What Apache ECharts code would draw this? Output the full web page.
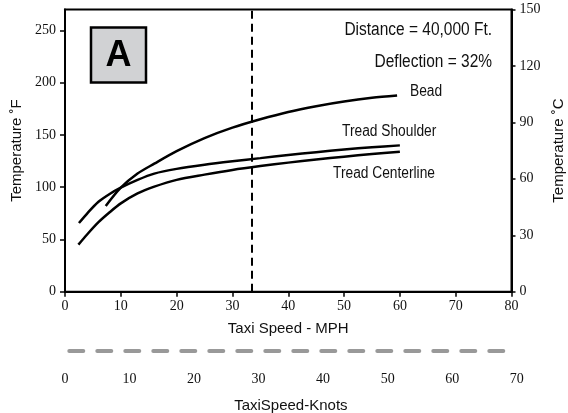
<!DOCTYPE html>
<html><head><meta charset="utf-8">
<script src="https://cdn.jsdelivr.net/npm/echarts@6/dist/echarts.min.js"></script>
<style>html,body{margin:0;padding:0;background:#fff}#c{width:568px;height:413px}</style>
</head><body><div id="c"></div>
<script>
// Data (x = taxi speed MPH, y = temperature °F)
const beadData = [[7.3,82],[10,99.5],[13,113],[16,122.5],[20,134.5],[25,147],[30,157],[35,165],[40,172],[45,177.5],[50,182],[55,185.5],[59.5,187.7]];
const shoulderData = [[2.5,65.7],[4,75],[6,86],[8,93.5],[10,99.5],[13,107],[16,113],[20,117.5],[25,121.5],[30,124.8],[35,127.8],[40,130.8],[45,133.5],[50,136],[55,138.2],[60,140]];
const centerlineData = [[2.4,45],[4,55],[6,66.5],[8,76],[10,84.5],[13,94],[16,100.5],[20,107],[25,112],[30,116.5],[35,120.2],[40,123.5],[45,126.5],[50,129.2],[55,131.7],[60,134]];
const refSpeedMph = 33.5;
const leftTicksF = [0,50,100,150,200,250];
const rightTicksC = [0,30,60,90,120,150];
const mphTicks = [0,10,20,30,40,50,60,70,80];
const knotTicks = [0,10,20,30,40,50,60,70];

const serif = '"Liberation Serif", "DejaVu Serif", serif';
const sans = '"Liberation Sans", Arial, sans-serif';
const tickLbl = {fontFamily: serif, fontSize: 14, color: '#111'};

const chart = echarts.init(document.getElementById('c'), null, {renderer: 'canvas'});
const lineStyle = {color: '#000', width: 2.5};
function mk(name, data) {
  return {name, type: 'line', data, smooth: 0.3, showSymbol: false, symbol: 'none',
    lineStyle, xAxisIndex: 0, yAxisIndex: 0, z: 3};
}
const series = [mk('Bead', beadData), mk('Tread Shoulder', shoulderData), mk('Tread Centerline', centerlineData)];
series[0].markLine = {silent: true, symbol: ['none','none'], label: {show: false},
  lineStyle: {color: '#000', width: 2, type: [8,5]}, data: [{xAxis: refSpeedMph}]};
series.push({type: 'line', data: [], xAxisIndex: 1, yAxisIndex: 2});

function txt(t, x, y, size, align) {
  return {type: 'text', x, y, scaleX: 0.86, style: {text: t, fontFamily: sans, fontSize: size, fill: '#111', align, verticalAlign: 'middle'}};
}

chart.setOption({
  animation: false,
  grid: [
    {left: 65, right: 56.5, top: 9.5, bottom: 121.3, show: true, borderColor: '#000', borderWidth: 2, backgroundColor: 'transparent', outerBoundsMode: 'none', containLabel: false},
    {left: 65, right: 51.3, top: 349.7, height: 1, outerBoundsMode: 'none', containLabel: false}
  ],
  xAxis: [
    {type: 'value', gridIndex: 0, min: 0, max: 80, interval: 10,
      axisLine: {show: true, lineStyle: {color: '#000', width: 2}},
      axisTick: {show: true, length: 5, lineStyle: {color: '#000', width: 1.5}, customValues: mphTicks},
      axisLabel: Object.assign({margin: 8, customValues: mphTicks}, tickLbl),
      splitLine: {show: false},
      name: 'Taxi Speed - MPH', nameLocation: 'middle', nameGap: 30,
      nameTextStyle: {fontFamily: sans, fontSize: 15, color: '#111'}},
    {type: 'value', gridIndex: 1, min: 0, max: 70, interval: 10, position: 'bottom',
      axisLine: {show: true, lineStyle: {color: '#999', width: 4, type: [14,14], dashOffset: 23.7}},
      axisTick: {show: false},
      axisLabel: Object.assign({margin: 22, customValues: knotTicks}, tickLbl),
      splitLine: {show: false},
      name: 'TaxiSpeed-Knots', nameLocation: 'middle', nameGap: 48,
      nameTextStyle: {fontFamily: sans, fontSize: 15, color: '#111'}}
  ],
  yAxis: [
    {type: 'value', gridIndex: 0, min: 0, max: 270, interval: 50, position: 'left',
      axisLine: {show: true, lineStyle: {color: '#000', width: 2}},
      axisTick: {show: true, length: 5, lineStyle: {color: '#000', width: 1.5}, customValues: leftTicksF},
      axisLabel: Object.assign({margin: 9, customValues: leftTicksF}, tickLbl),
      splitLine: {show: false},
      name: 'Temperature ˚F', nameLocation: 'middle', nameGap: 41, nameRotate: 90,
      nameTextStyle: {fontFamily: sans, fontSize: 15, color: '#111'}},
    {type: 'value', gridIndex: 0, min: 0, max: 150, interval: 30, position: 'right',
      axisLine: {show: true, lineStyle: {color: '#000', width: 2}},
      axisTick: {show: true, length: 4, lineStyle: {color: '#000', width: 1.5}, customValues: rightTicksC},
      axisLabel: Object.assign({margin: 8, customValues: rightTicksC}, tickLbl),
      splitLine: {show: false},
      name: 'Temperature ˚C', nameLocation: 'middle', nameGap: 40, nameRotate: 90,
      nameTextStyle: {fontFamily: sans, fontSize: 15, color: '#111'}},
    {type: 'value', gridIndex: 1, show: false, min: 0, max: 1}
  ],
  series,
  graphic: [
    {type: 'rect', shape: {x: 91, y: 27.5, width: 55, height: 55}, style: {fill: '#d1d2d4', stroke: '#000', lineWidth: 2.5}, z: 10},
    {type: 'text', x: 118.5, y: 56, style: {text: 'A', fontFamily: sans, fontWeight: 'bold', fontSize: 36, fill: '#000', align: 'center', verticalAlign: 'middle'}, z: 11},
    txt('Distance = 40,000 Ft.', 492, 30, 18, 'right'),
    txt('Deflection = 32%', 492, 62, 18, 'right'),
    txt('Bead', 410, 92, 16, 'left'),
    txt('Tread Shoulder', 342, 132, 16, 'left'),
    txt('Tread Centerline', 333, 173.5, 16, 'left')
  ]
});
</script></body></html>
